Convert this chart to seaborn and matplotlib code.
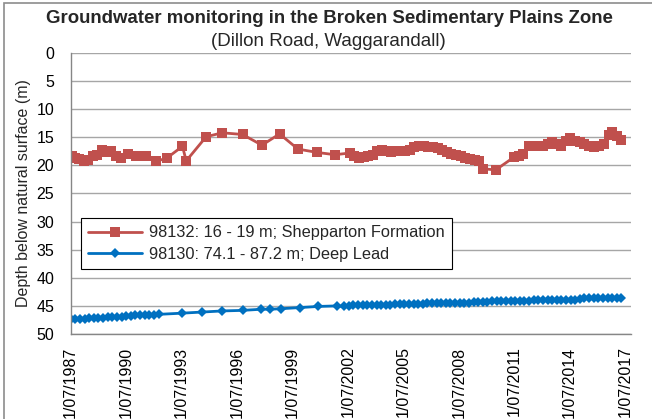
import matplotlib
matplotlib.use("Agg")
import matplotlib.pyplot as plt
import seaborn as sns
import pandas as pd
from matplotlib.patches import Rectangle

# Bore 98132 - Shepparton Formation (decimal year, depth below surface in m)
shallow_years = [
    1987.55, 1987.75, 1987.95, 1988.2, 1988.45, 1988.7, 1988.95, 1989.2, 1989.45, 1989.7,
    1989.95, 1990.2, 1990.6, 1991.05, 1991.6, 1992.1, 1992.7, 1993.55, 1993.75, 1994.83,
    1995.7, 1996.8, 1997.85, 1998.8, 1999.8, 2000.85, 2001.8, 2002.6, 2002.85, 2003.1,
    2003.35, 2003.6, 2003.85, 2004.1, 2004.35, 2004.6, 2004.85, 2005.1, 2005.35, 2005.6,
    2005.85, 2006.1, 2006.35, 2006.6, 2006.85, 2007.1, 2007.35, 2007.6, 2007.85, 2008.1,
    2008.35, 2008.6, 2008.85, 2009.1, 2009.35, 2009.6, 2009.8, 2010.5, 2011.5, 2011.75,
    2012.0, 2012.3, 2012.55, 2012.8, 2013.05, 2013.3, 2013.55, 2013.8, 2014.05, 2014.3,
    2014.5, 2014.8, 2015.05, 2015.3, 2015.55, 2015.8, 2016.1, 2016.35, 2016.6, 2016.8,
    2017.05, 2017.3,
]
shallow_depth = [
    18.4, 18.6, 18.9, 19.3, 19.0, 18.4, 18.2, 17.3, 17.6, 17.5,
    18.4, 18.7, 17.9, 18.4, 18.3, 19.3, 18.7, 16.6, 19.2, 14.9,
    14.2, 14.5, 16.4, 14.4, 17.1, 17.7, 18.1, 17.8, 18.4, 18.6,
    18.5, 18.3, 18.1, 17.5, 17.3, 17.4, 17.6, 17.5, 17.4, 17.5,
    17.2, 16.7, 16.6, 16.6, 16.7, 16.8, 16.9, 17.2, 17.6, 17.9,
    18.1, 18.4, 18.6, 18.8, 19.0, 19.3, 20.6, 20.8, 18.5, 18.4,
    18.0, 16.6, 16.5, 16.5, 16.6, 16.2, 15.8, 16.2, 16.5, 15.6,
    15.2, 15.6, 15.9, 16.2, 16.6, 16.8, 16.6, 16.2, 14.6, 14.0,
    14.8, 15.4,
]

# Bore 98130 - Deep Lead
deep_years = [
    1987.5, 1987.75, 1988.0, 1988.25, 1988.5, 1988.75, 1989.0, 1989.25, 1989.5, 1989.75,
    1990.0, 1990.25, 1990.5, 1990.75, 1991.0, 1991.25, 1991.5, 1991.75, 1992.0, 1992.3,
    1993.5, 1994.6, 1995.7, 1996.8, 1997.8, 1998.3, 1998.9, 1999.9, 2000.9, 2001.9,
    2002.3, 2002.55, 2002.8, 2003.05, 2003.3, 2003.55, 2003.8, 2004.05, 2004.3, 2004.55,
    2004.8, 2005.05, 2005.3, 2005.55, 2005.8, 2006.05, 2006.3, 2006.55, 2006.8, 2007.05,
    2007.3, 2007.55, 2007.8, 2008.05, 2008.3, 2008.55, 2008.8, 2009.05, 2009.3, 2009.55,
    2009.8, 2010.05, 2010.3, 2010.55, 2010.8, 2011.05, 2011.3, 2011.55, 2011.8, 2012.05,
    2012.3, 2012.55, 2012.8, 2013.05, 2013.3, 2013.55, 2013.8, 2014.05, 2014.3, 2014.55,
    2014.8, 2015.05, 2015.3, 2015.55, 2015.8, 2016.05, 2016.3, 2016.55, 2016.8, 2017.05,
    2017.3,
]
deep_depth = [
    47.4, 47.4, 47.3, 47.3, 47.2, 47.2, 47.1, 47.1, 47.0, 47.0,
    46.9, 46.9, 46.8, 46.8, 46.7, 46.7, 46.6, 46.6, 46.6, 46.5,
    46.3, 46.1, 45.9, 45.8, 45.6, 45.6, 45.5, 45.3, 45.1, 45.0,
    45.1, 45.0, 44.9, 44.9, 44.9, 44.9, 44.9, 44.8, 44.8, 44.9,
    44.9, 44.7, 44.7, 44.7, 44.7, 44.7, 44.6, 44.6, 44.5, 44.5,
    44.5, 44.5, 44.4, 44.4, 44.4, 44.4, 44.4, 44.4, 44.3, 44.3,
    44.3, 44.3, 44.2, 44.2, 44.1, 44.1, 44.1, 44.1, 44.1, 44.1,
    44.1, 44.0, 44.0, 44.0, 43.9, 43.9, 43.9, 43.9, 43.9, 43.9,
    43.9, 43.7, 43.6, 43.6, 43.6, 43.6, 43.6, 43.6, 43.6, 43.6,
    43.6,
]

tick_years = [1987, 1990, 1993, 1996, 1999, 2002, 2005, 2008, 2011, 2014, 2017]
tick_labels = [f"1/07/{y}" for y in tick_years]

shallow = pd.DataFrame({'year': shallow_years, 'depth': shallow_depth})
deep = pd.DataFrame({'year': deep_years, 'depth': deep_depth})

sns.set_style('white')
plt.rcParams['font.family'] = ['Liberation Sans', 'DejaVu Sans']

fig = plt.figure(figsize=(6.52, 4.19), dpi=100)
ax = fig.add_axes([0.1084, 0.2029, 0.8589, 0.6706])

# grey chart border (left/top visible in the original)
fig.patches.append(Rectangle((4 / 652, -0.1), 1.2, 1.1 - 3 / 419, transform=fig.transFigure,
                             fill=False, edgecolor='#8c8c8c', linewidth=1.2))

sns.lineplot(data=shallow, x='year', y='depth', ax=ax, color='#C0504D', marker='s',
             markersize=6.5, markeredgewidth=0, linewidth=2, estimator=None, sort=False,
             label='98132: 16 - 19 m; Shepparton Formation')
sns.lineplot(data=deep, x='year', y='depth', ax=ax, color='#0070C0', marker='D',
             markersize=5.5, markeredgewidth=0, linewidth=2, estimator=None, sort=False,
             label='98130: 74.1 - 87.2 m; Deep Lead')

ax.set_xlim(1987.5, 2017.8)
ax.set_ylim(50, 0)
ax.set_yticks(range(0, 51, 5))
ax.set_xticks([y + 0.5 for y in tick_years])
ax.set_xticklabels(tick_labels, rotation=90)
ax.tick_params(axis='both', labelsize=11.5, colors='#868686', length=5, width=1,
               direction='out', labelcolor='black')
ax.tick_params(axis='y', pad=7)
ax.tick_params(axis='x', pad=4)
ax.yaxis.grid(True, color='#a6a6a6', linewidth=1)
ax.xaxis.grid(False)
for side in ['top', 'right']:
    ax.spines[side].set_visible(False)
for side in ['left', 'bottom']:
    ax.spines[side].set_color('#868686')
    ax.spines[side].set_linewidth(1)
ax.set_xlabel('')
ax.set_ylabel('Depth below natural surface (m)', fontsize=11.5, labelpad=4)

fig.text(0.506, 0.955, 'Groundwater monitoring in the Broken Sedimentary Plains Zone',
         ha='center', va='center', fontsize=13.4, fontweight='bold')
fig.text(0.503, 0.900, '(Dillon Road, Waggarandall)', ha='center', va='center', fontsize=13.5)

leg = ax.legend(loc='upper left', bbox_to_anchor=(0.018, 0.413), borderaxespad=0,
                fontsize=11.8, frameon=True, fancybox=False, edgecolor='black',
                framealpha=1, handlelength=3.3, handletextpad=0.4, borderpad=0.45,
                labelspacing=0.4)
leg.get_frame().set_linewidth(0.8)

fig.savefig('out.png', dpi=100)
